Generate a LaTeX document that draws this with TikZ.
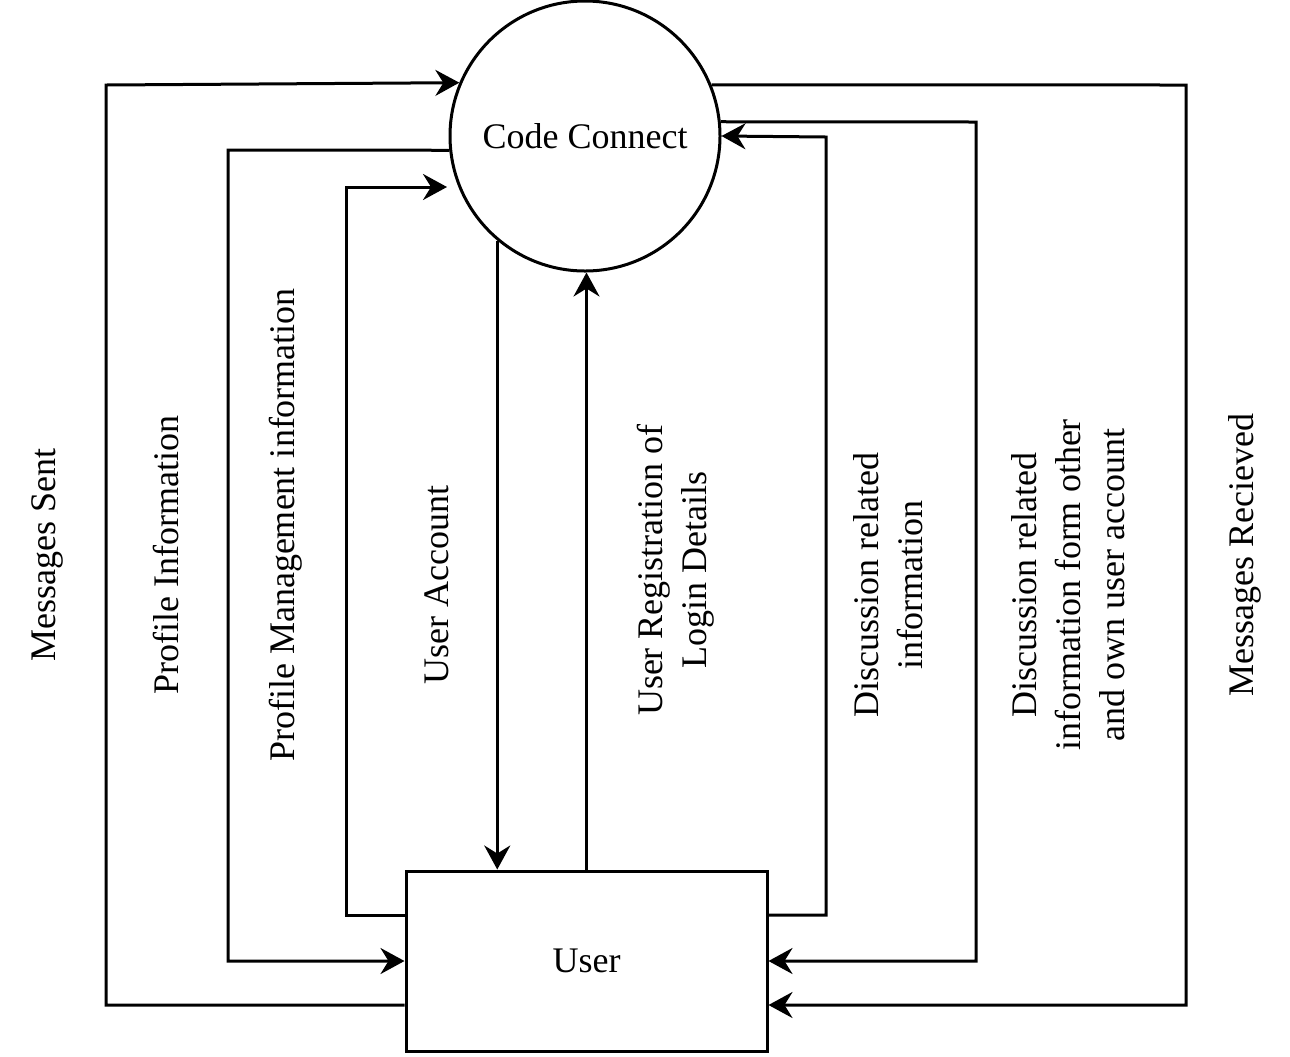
\documentclass[tikz,border=0pt]{standalone}
\usepackage{fontspec}
\setmainfont{Liberation Serif}
\usetikzlibrary{arrows.meta,calc}
\begin{document}
\begin{tikzpicture}[x=0.5pt,y=-0.5pt,
  flow/.style={line width=1.5pt,-{Stealth[length=12pt,width=13pt,inset=4pt]}},
  plain/.style={line width=1.5pt},
  lbl/.style={rotate=90,font=\fontsize{18}{22}\selectfont,align=center,inner sep=0pt},
  every node/.style={font=\fontsize{18}{22}\selectfont}]
\useasboundingbox (0,0) rectangle (1290,1056);
\node[circle,draw,line width=1.5pt,minimum size=135pt,inner sep=0pt] (cc) at (585,136) {Code Connect};
\node[draw,line width=1.5pt,minimum width=180.5pt,minimum height=90pt,inner sep=0pt] (user) at (586.5,961) {User};
% corner coordinates
\coordinate (pm) at (447,187);
% Messages Sent
\draw[flow] (user.west |- 0,1005) -- (106,1005) -- (106,85) -- (cc.157.8);
% Profile Information
\draw[flow] (cc.186) -- (228,150) -- (228,961) -- (user.west);
% Profile Management information
\draw[flow] (user.west |- 0,915) -- (346,915) -- (346,187) -- (pm);
% User Account
\draw[flow] (cc.230) -- (cc.230 |- user.north);
% User Registration of Login Details
\draw[flow] (user.north) -- (user.north |- cc.south);
% Discussion related information
\draw[flow] (user.east |- 0,915) -- (826,915) -- (826,137) -- (cc.east);
% Discussion related information form other and own user account
\draw[flow] (cc.6) -- (976,122) -- (976,961) -- (user.east);
% Messages Recieved
\draw[flow] (cc.22.2) -- (1186,85) -- (1186,1005) -- (user.east |- 0,1005);
% labels
\node[lbl] (l1) at (47,555) {Messages Sent};
\node[lbl] (l2) at (166,555) {Profile Information};
\node[lbl] (l3) at (286,525) {Profile Management information};
\node[lbl] (l4) at (437,585) {User Account};
\node[lbl] (l5) at (676,570) {User Registration of\\Login Details};
\node[lbl] (l6) at (888,585) {Discussion related\\information};
\node[lbl] (l7) at (1068,585) {Discussion related\\information form other\\and own user account};
\node[lbl] (l8) at (1245,555) {Messages Recieved};
\end{tikzpicture}
\end{document}
